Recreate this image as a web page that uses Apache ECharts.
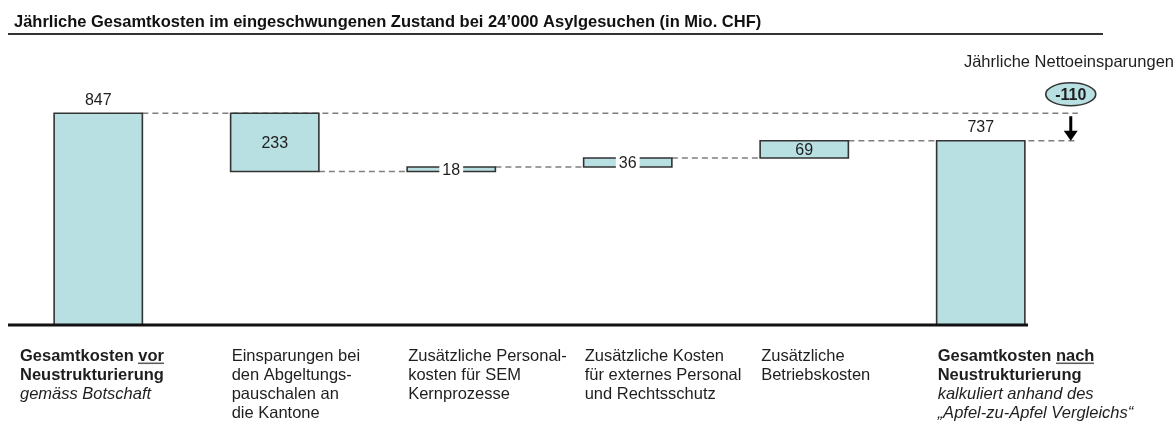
<!DOCTYPE html>
<html>
<head>
<meta charset="utf-8">
<script src="https://cdn.jsdelivr.net/npm/echarts@6/dist/echarts.min.js"></script>
<style>
html,body{margin:0;padding:0;background:#fff;}
#chart{width:1176px;height:421px;}
</style>
</head>
<body>
<div id="chart"></div>
<script>
// ---------- data ----------
const titleText = 'Jährliche Gesamtkosten im eingeschwungenen Zustand bei 24’000 Asylgesuchen (in Mio. CHF)';
const categories = [
  '{b|Gesamtkosten }{bu|vor}\n{b|Neustrukturierung}\n{i|gemäss Botschaft}',
  'Einsparungen bei\nden Abgeltungs-\npauschalen an\ndie Kantone',
  'Zusätzliche Personal-\nkosten für SEM\nKernprozesse',
  'Zusätzliche Kosten\nfür externes Personal\nund Rechtsschutz',
  'Zusätzliche\nBetriebskosten',
  '{b|Gesamtkosten }{bu|nach}\n{b|Neustrukturierung}\n{i|kalkuliert anhand des}\n{i|„Apfel-zu-Apfel Vergleichs“}'
];
const values = [847, -233, 18, 36, 69, 737];
const isTotal = [true, false, false, false, false, true];
const netSavings = -110;
const netSavingsLabel = 'Jährliche Nettoeinsparungen';

// ---------- derived ----------
const n = values.length;
const rows = [];
let run = 0;
for (let i = 0; i < n; i++) {
  let lo, hi, end;
  if (isTotal[i]) { lo = 0; hi = values[i]; end = values[i]; }
  else { const s = run, e = run + values[i]; lo = Math.min(s, e); hi = Math.max(s, e); end = e; }
  run = end;
  rows.push([i, lo, hi, values[i], end]);
}

const FONT = '"Liberation Sans", Arial, Helvetica, sans-serif';
const FILL = '#b8dfe2';
const STROKE = '#333333';
const TXT = '#1e1e1e';
const FS = 16.5;
const LH = 19;

// underline image for rich text
const ul = document.createElement('canvas');
ul.width = 4; ul.height = LH;
(function(){ const g = ul.getContext('2d'); g.fillStyle = '#222'; g.fillRect(0, 16.5, 4, 1.3); })();

const richStyles = {
  b: {fontWeight: 'bold', fontSize: FS, lineHeight: LH, fontFamily: FONT, color: TXT},
  bu: {fontWeight: 'bold', fontSize: FS, lineHeight: LH, fontFamily: FONT, color: TXT, backgroundColor: {image: ul}},
  i: {fontStyle: 'italic', fontSize: FS, lineHeight: LH, fontFamily: FONT, color: TXT}
};

function arrowX(api) {
  const cw = api.size([1, 0])[0];
  return api.coord([n - 1, 0])[0] + cw * 0.51;
}

function renderConnector(params, api) {
  const i = api.value(0);
  if (i >= n - 1) return null;
  const level = api.value(4);
  const cw = api.size([1, 0])[0];
  const bw = cw * 0.5;
  const p = api.coord([i, level]);
  const x1 = p[0] + bw / 2;
  let x2 = p[0] + cw - bw / 2;
  if (level === values[0] || level === values[n - 1]) x2 = arrowX(api) + 7;
  return {
    type: 'line',
    shape: {x1: x1, y1: p[1], x2: x2, y2: p[1]},
    style: {stroke: '#7f7f7f', lineWidth: 1.5, lineDash: [6, 4]}
  };
}

function renderBar(params, api) {
  const i = api.value(0), lo = api.value(1), hi = api.value(2), v = api.value(3);
  const cw = api.size([1, 0])[0];
  const bw = cw * 0.5;
  const top = api.coord([i, hi]);
  const bot = api.coord([i, lo]);
  const x = top[0] - bw / 2;
  const h = bot[1] - top[1];
  const children = [{
    type: 'rect',
    shape: {x: x, y: top[1], width: bw, height: h},
    style: {fill: FILL, stroke: STROKE, lineWidth: 1.6}
  }];
  const lbl = String(Math.abs(v));
  if (isTotal[i]) {
    children.push({type: 'text', x: top[0], y: top[1] - 5,
      style: {text: lbl, fontSize: 16, fontFamily: FONT, fill: TXT, align: 'center', verticalAlign: 'bottom'}});
  } else if (h >= 14) {
    children.push({type: 'text', x: top[0], y: top[1] + h / 2 + 1,
      style: {text: lbl, fontSize: 16, fontFamily: FONT, fill: TXT, align: 'center', verticalAlign: 'middle'}});
  } else {
    children.push({type: 'text', x: top[0], y: top[1] + h / 2 + 1,
      style: {text: lbl, fontSize: 16, fontFamily: FONT, fill: TXT, align: 'center', verticalAlign: 'middle',
        backgroundColor: '#fff', padding: [0, 3, 0, 3]}});
  }
  // category label
  const base = api.coord([i, 0]);
  const lx = i === 0 ? base[0] - cw / 2 + 10 : x + 1;
  children.push({type: 'text', x: lx, y: base[1] + 22,
    style: {text: categories[i], rich: richStyles, fontSize: FS, lineHeight: LH, fontFamily: FONT, fill: TXT,
      align: 'left', verticalAlign: 'top'}});
  return {type: 'group', children: children};
}

function renderNet(params, api) {
  const hi = api.value(1), lo = api.value(2);
  const ax = arrowX(api);
  const pHi = api.coord([n - 1, hi]);
  const pLo = api.coord([n - 1, lo]);
  const y1 = pHi[1] + 3, y2 = pLo[1];
  const ey = pHi[1] - 19;
  return {type: 'group', children: [
    {type: 'line', shape: {x1: ax, y1: y1, x2: ax, y2: y2 - 9}, style: {stroke: '#000', lineWidth: 3}},
    {type: 'polygon', shape: {points: [[ax - 7, y2 - 10], [ax + 7, y2 - 10], [ax, y2]]}, style: {fill: '#000'}},
    {type: 'ellipse', shape: {cx: ax, cy: ey, rx: 25, ry: 11.5}, style: {fill: FILL, stroke: STROKE, lineWidth: 1.6}},
    {type: 'text', x: ax, y: ey + 1, style: {text: String(api.value(3)), fontSize: 16, fontWeight: 'bold',
      fontFamily: FONT, fill: TXT, align: 'center', verticalAlign: 'middle'}},
    {type: 'text', x: 1174, y: ey - 32, style: {text: netSavingsLabel, fontSize: FS,
      fontFamily: FONT, fill: TXT, align: 'right', verticalAlign: 'middle'}}
  ]};
}

const chart = echarts.init(document.getElementById('chart'), null, {renderer: 'canvas'});
chart.setOption({
  animation: false,
  backgroundColor: '#fff',
  title: {text: titleText, left: 9, top: 9,
    textStyle: {fontSize: FS, fontWeight: 'bold', fontFamily: FONT, color: '#111'}},
  grid: {left: 10, right: 107, top: 75, bottom: 96},
  xAxis: {type: 'category', data: categories.map((c, i) => 'c' + i), show: false},
  yAxis: {type: 'value', min: 0, max: 1000, show: false},
  graphic: [
    {type: 'line', shape: {x1: 8, y1: 34, x2: 1103, y2: 34}, style: {stroke: '#333', lineWidth: 2}},
    {type: 'line', shape: {x1: 8, y1: 325, x2: 1028, y2: 325}, style: {stroke: '#111', lineWidth: 3}, z: 10}
  ],
  series: [
    {type: 'custom', z: 1, renderItem: renderConnector, data: rows, silent: true},
    {type: 'custom', z: 2, renderItem: renderBar, data: rows, silent: true, clip: false},
    {type: 'custom', z: 3, renderItem: renderNet, data: [[n - 1, values[0], values[n - 1], netSavings]], silent: true}
  ]
});
</script>
</body>
</html>
